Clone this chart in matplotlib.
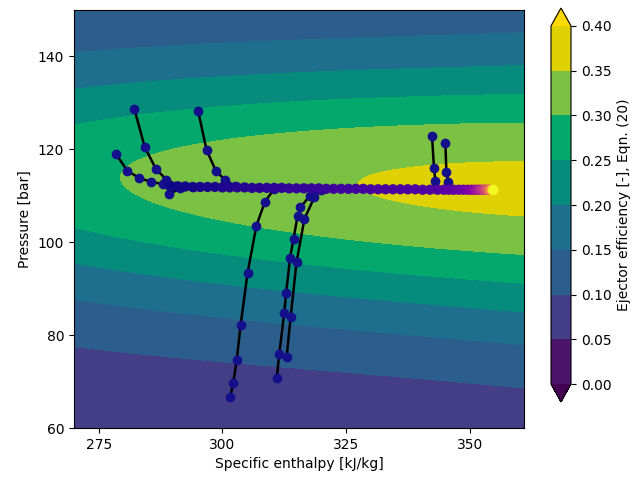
import numpy as np
import matplotlib
matplotlib.use("Agg")
import matplotlib.pyplot as plt
from matplotlib.colors import ListedColormap

# ---------------- data ----------------
# efficiency surface model, coefficients read from the contour shapes
h_range = (270.0, 361.0)
p_range = (60.0, 150.0)
eff_peak = 0.362          # max efficiency along ridge
h_peak = 365.3            # enthalpy of max
eff_curv = 8.4e-6         # curvature along enthalpy
p_ridge_left = 114.2      # ridge pressure at h = 271
p_ridge_slope = -0.03     # bar per kJ/kg
spread_left = 8.3e-4      # pressure-spread coefficient at left edge
spread_right = 4.9e-4     # pressure-spread coefficient at right edge
tail_left = 1.4           # tail exponent at left edge
tail_right = 2.0          # tail exponent at right edge
levels = [0.00, 0.05, 0.10, 0.15, 0.20, 0.25, 0.30, 0.35, 0.40]
band_colors = ["#4a1468", "#433e85", "#2c5e8d", "#1d6f8d",
               "#068b7d", "#04a76c", "#7bc143", "#dfd103"]
under_color = "#440154"
over_color = "#fdd900"

# black trajectories (enthalpy kJ/kg, pressure bar)
traj_A_h = [278.4, 280.8, 283.2, 285.6, 288.0, 290.5]
traj_A_p = [119.1, 115.4, 113.8, 113.0, 112.5, 112.2]
traj_B_h = [282.2, 284.3, 286.6, 288.7, 291.0]
traj_B_p = [128.7, 120.5, 115.7, 113.5, 112.2]
traj_C_h = [295.1, 296.8, 298.7, 300.6, 302.5]
traj_C_p = [128.3, 119.9, 115.3, 113.4, 112.1]
traj_D_h = [301.6, 302.2, 302.9, 303.7, 305.1, 306.9, 308.6, 310.5]
traj_D_p = [66.7, 69.7, 74.6, 82.2, 93.4, 103.6, 108.7, 111.5]
traj_E1_h = [311.0, 311.5, 312.5, 312.9, 313.7, 314.4, 315.2, 315.8, 317.7, 318.6]
traj_E1_p = [70.7, 75.9, 84.7, 89.1, 96.7, 100.8, 105.6, 107.5, 110.0, 111.3]
traj_E2_h = [313.0, 313.8, 315.0, 316.6, 318.6, 320.0]
traj_E2_p = [75.3, 83.8, 95.7, 105.0, 109.7, 111.3]
traj_F1_h = [342.4, 342.8, 343.1, 343.3]
traj_F1_p = [122.9, 115.9, 113.2, 111.6]
traj_F2_h = [345.1, 345.3, 345.7, 345.9]
traj_F2_p = [121.4, 115.2, 112.9, 111.5]
traj_G_h = [289.2, 291.5, 294.0]
traj_G_p = [110.3, 111.6, 111.9]

# converging trajectory coloured by time
conv_h = [289.5, 291.0, 292.5, 294.0, 295.5, 297.0, 298.5, 300.0, 301.5, 303.0,
          304.5, 306.0, 307.5, 309.0, 310.5, 312.0, 313.5, 315.0, 316.5, 318.0,
          319.5, 321.0, 322.5, 324.0, 325.5, 327.0, 328.5, 330.0, 331.5, 333.0,
          334.5, 336.0, 337.5, 339.0, 340.5, 342.0, 343.5,
          344.8, 345.8, 346.8, 347.8, 348.7, 349.6, 350.4, 351.1, 351.7, 352.2,
          352.7, 353.1, 353.5, 353.8, 354.1, 354.3, 354.45, 354.6, 354.7, 354.75, 354.8]
conv_p = [112.0, 112.0, 112.0, 111.9, 111.9, 111.9, 111.9, 111.8, 111.8, 111.8,
          111.8, 111.7, 111.7, 111.7, 111.7, 111.7, 111.6, 111.6, 111.6, 111.6,
          111.6, 111.5, 111.5, 111.5, 111.5, 111.5, 111.5, 111.4, 111.4, 111.4,
          111.4, 111.4, 111.4, 111.4, 111.3, 111.3, 111.3,
          111.3, 111.3, 111.3, 111.3, 111.3, 111.3, 111.3, 111.3, 111.3, 111.3,
          111.3, 111.3, 111.3, 111.3, 111.25, 111.25, 111.25, 111.25, 111.25, 111.25, 111.25]
conv_t = [0, 1, 2, 3, 4, 5, 6, 7, 8, 9,
          10, 11, 12, 13, 14, 15, 16, 17, 18, 19,
          20, 21, 22, 23, 24, 25, 26, 27, 28, 29,
          30, 31, 32, 33, 34, 35, 36,
          38, 41, 44, 48, 53, 60, 68, 78, 88, 100,
          112, 125, 138, 152, 166, 180, 195, 210, 225, 240, 255]

# ---------------- figure ----------------
fig = plt.figure(figsize=(6.36, 4.79), dpi=100)
ax = fig.add_axes([74/636, (479-428)/479, 450/636, 418/479])

H, P = np.meshgrid(np.linspace(h_range[0], h_range[1], 260),
                   np.linspace(p_range[0], p_range[1], 260))
E_ridge = eff_peak - eff_curv * (H - h_peak) ** 2
P_ridge = p_ridge_left + p_ridge_slope * (H - 271.0)
frac = (H - 271.0) / 90.0
c_w = spread_left + (spread_right - spread_left) * frac
n_w = tail_left + (tail_right - tail_left) * frac
EFF = E_ridge * (1.0 + c_w * (P - P_ridge) ** 2) ** (-n_w)

cmap = ListedColormap(band_colors)
cmap.set_under(under_color)
cmap.set_over(over_color)
cs = ax.contourf(H, P, EFF, levels=levels, cmap=cmap, extend="both")

navy = "#14108c"
for hh, pp in [(traj_A_h, traj_A_p), (traj_B_h, traj_B_p), (traj_C_h, traj_C_p),
               (traj_D_h, traj_D_p), (traj_E1_h, traj_E1_p), (traj_E2_h, traj_E2_p),
               (traj_F1_h, traj_F1_p), (traj_F2_h, traj_F2_p), (traj_G_h, traj_G_p)]:
    ax.plot(hh, pp, "-", color="black", lw=1.8, zorder=3)
    ax.plot(hh, pp, "o", color=navy, ms=6, mec=navy, zorder=4, ls="none")

ax.scatter(conv_h, conv_p, c=conv_t, cmap="plasma", s=55, edgecolors="none", zorder=5)

ax.set_xlim(h_range)
ax.set_ylim(p_range)
ax.set_xticks([275, 300, 325, 350])
ax.set_yticks([60, 80, 100, 120, 140])
ax.set_xlabel("Specific enthalpy [kJ/kg]")
ax.set_ylabel("Pressure [bar]")

cax = fig.add_axes([551/636, (479-402)/479, 20/636, 394/479])
cb = fig.colorbar(cs, cax=cax)
cb.set_ticks(levels)
cb.set_label("Ejector efficiency [-], Eqn. (20)")

fig.savefig("out.png", dpi=100)
